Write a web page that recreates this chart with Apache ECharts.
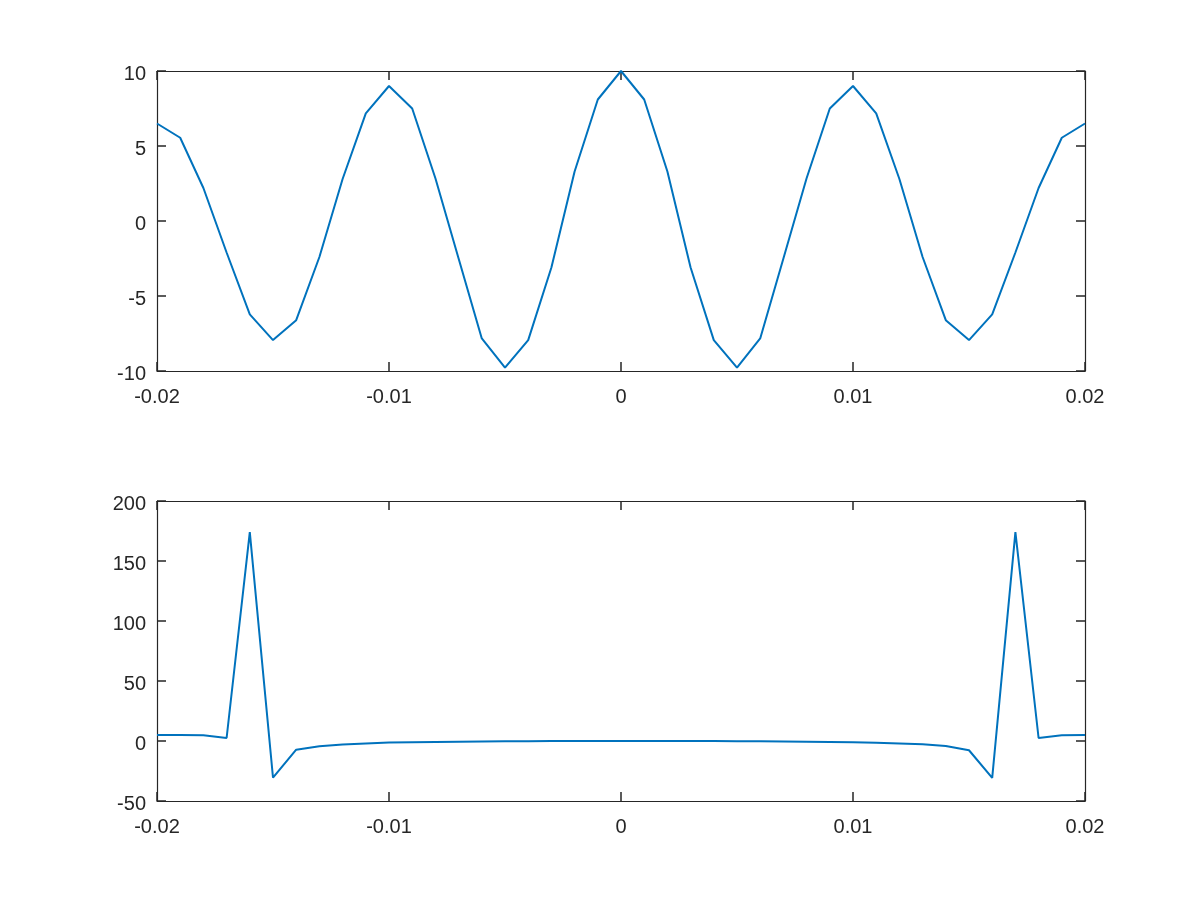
<!DOCTYPE html>
<html>
<head>
<meta charset="utf-8">
<script src="https://cdn.jsdelivr.net/npm/echarts@6/dist/echarts.min.js"></script>
<style>
html,body{margin:0;padding:0;background:#fff;}
#chart{width:1200px;height:900px;}
</style>
</head>
<body>
<div id="chart"></div>
<script>
var tValues = [-0.020,-0.019,-0.018,-0.017,-0.016,-0.015,-0.014,-0.013,-0.012,-0.011,
  -0.010,-0.009,-0.008,-0.007,-0.006,-0.005,-0.004,-0.003,-0.002,-0.001,
  0.000,0.001,0.002,0.003,0.004,0.005,0.006,0.007,0.008,0.009,
  0.010,0.011,0.012,0.013,0.014,0.015,0.016,0.017,0.018,0.019,0.020];

var topValues = [6.5,5.55,2.2,-2.1,-6.23,-7.94,-6.61,-2.4,2.8,7.17,
  9.0,7.5,2.85,-2.5,-7.83,-9.78,-7.94,-3.1,3.3,8.1,
  10.0,8.1,3.3,-3.1,-7.94,-9.78,-7.83,-2.5,2.85,7.5,
  9.0,7.17,2.8,-2.4,-6.61,-7.94,-6.23,-2.1,2.2,5.55,6.5];

var bottomValues = [5,5,4.8,2.5,174,-30.5,-7.2,-4.4,-3,-2,
  -1.3,-1,-0.8,-0.6,-0.4,-0.3,-0.2,-0.1,0,0,
  0,0,0,-0.1,-0.1,-0.2,-0.3,-0.4,-0.6,-0.8,
  -1.1,-1.5,-2,-2.8,-4.1,-7.7,-30.7,174,2.5,4.7,5];

var xTicks = {min:-0.02, max:0.02, interval:0.01};
var topY = {min:-10, max:10, interval:5};
var bottomY = {min:-50, max:200, interval:50};

var axisColor = '#262626';
var fontFam = '"Liberation Sans", Arial, Helvetica, sans-serif';
var fontSz = 20;

function xAxis(gridIndex, position, showLabel) {
  return {
    type:'value', gridIndex:gridIndex, position:position,
    min:xTicks.min, max:xTicks.max, interval:xTicks.interval,
    axisLine:{show:true, onZero:false, lineStyle:{color:axisColor, width:1.2}},
    axisTick:{show:true, inside:true, length:9, lineStyle:{color:axisColor, width:1.5}},
    splitLine:{show:false},
    axisLabel:{show:showLabel, margin:16, color:axisColor, fontSize:fontSz, fontFamily:fontFam,
      showMinLabel:true, showMaxLabel:true,
      formatter:function(v){ return v===0 ? '0' : String(Math.round(v*100)/100); }}
  };
}
function yAxis(gridIndex, position, showLabel, range) {
  return {
    type:'value', gridIndex:gridIndex, position:position,
    min:range.min, max:range.max, interval:range.interval,
    axisLine:{show:true, onZero:false, lineStyle:{color:axisColor, width:1.2}},
    axisTick:{show:true, inside:true, length:9, lineStyle:{color:axisColor, width:1.5}},
    splitLine:{show:false},
    axisLabel:{show:showLabel, margin:11, color:axisColor, fontSize:fontSz, fontFamily:fontFam,
      verticalAlign:'top', lineHeight:6, showMinLabel:true, showMaxLabel:true}
  };
}

var topData = tValues.map(function(t,i){ return [t, topValues[i]]; });
var bottomData = tValues.map(function(t,i){ return [t, bottomValues[i]]; });

var option = {
  animation:false,
  backgroundColor:'#ffffff',
  grid:[
    {left:157, right:115, top:71, height:300},
    {left:157, right:115, top:501, height:300}
  ],
  xAxis:[
    xAxis(0,'bottom',true), xAxis(0,'top',false),
    xAxis(1,'bottom',true), xAxis(1,'top',false)
  ],
  yAxis:[
    yAxis(0,'left',true,topY), yAxis(0,'right',false,topY),
    yAxis(1,'left',true,bottomY), yAxis(1,'right',false,bottomY)
  ],
  series:[
    {type:'line', xAxisIndex:0, yAxisIndex:0, data:topData, showSymbol:false, symbol:'none',
      lineStyle:{color:'#0072BD', width:2}, clip:false},
    {type:'line', xAxisIndex:2, yAxisIndex:2, data:bottomData, showSymbol:false, symbol:'none',
      lineStyle:{color:'#0072BD', width:2}, clip:false}
  ]
};

var chart = echarts.init(document.getElementById('chart'), null, {renderer:'canvas'});
chart.setOption(option);
</script>
</body>
</html>
